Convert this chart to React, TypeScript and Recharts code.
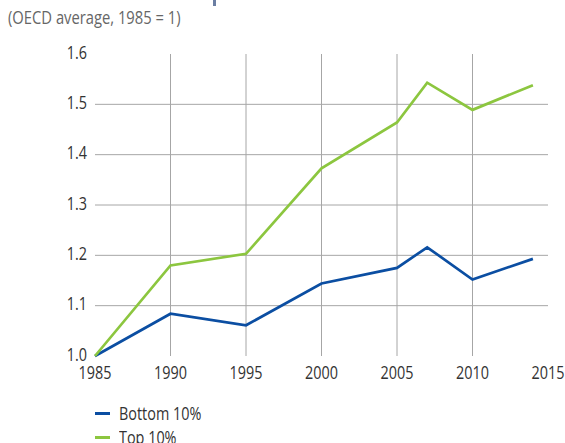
import React from "react";
import { LineChart, Line, XAxis, YAxis, ReferenceLine } from "recharts";

const years = [1985, 1990, 1995, 2000, 2005, 2007, 2010, 2014];
const bottom10 = [1.0, 1.084, 1.061, 1.144, 1.175, 1.216, 1.152, 1.193];
const top10 = [1.0, 1.18, 1.203, 1.373, 1.464, 1.543, 1.489, 1.538];
const xTicks = [1985, 1990, 1995, 2000, 2005, 2010, 2015];
const yTicks = [1.0, 1.1, 1.2, 1.3, 1.4, 1.5, 1.6];
const xGrid = [1990, 1995, 2000, 2005, 2010];
const yGrid = [1.1, 1.2, 1.3, 1.4, 1.5];
const seriesNames = ["Bottom 10%", "Top 10%"];

const BLUE = "#0b4ea2";
const GREEN = "#8cc63f";
const FONT = "'Open Sans', sans-serif";
const SX = 0.8;

const data = years.map((y, i) => ({ year: y, bottom: bottom10[i], top: top10[i] }));

const XTick = (props: any) => {
  const { x, y, payload } = props;
  return (
    <g transform={`translate(${x},${y})`}>
      <text transform={`scale(${SX},1)`} textAnchor="middle" dy="0.71em" fontSize={18} fill="#333" fontFamily={FONT}>
        {payload.value}
      </text>
    </g>
  );
};

const YTick = (props: any) => {
  const { x, y, payload } = props;
  return (
    <g transform={`translate(${x},${y})`}>
      <text transform={`scale(${SX},1)`} textAnchor="end" dy="0.25em" fontSize={18} fill="#333" fontFamily={FONT}>
        {Number(payload.value).toFixed(1)}
      </text>
    </g>
  );
};

export default function App() {
  return (
    <div style={{ position: "absolute", left: 0, top: 0, width: 565, height: 443, background: "#fff", fontFamily: FONT, overflow: "hidden" }}>
      <div style={{ position: "absolute", left: 213, top: 0, width: 3, height: 6, background: "#6b7ea3" }} />
      <div style={{ position: "absolute", left: 8, top: 5, fontSize: 18, lineHeight: "24px", color: "#666", whiteSpace: "nowrap", transform: `scaleX(0.82)`, transformOrigin: "left center" }}>
        (OECD average, 1985 = 1)
      </div>
      <LineChart width={565} height={443} data={data} margin={{ top: 54, right: 17, left: 0, bottom: 56 }}>
        {xGrid.map((v) => (
          <ReferenceLine key={"x" + v} x={v} stroke="#a6a6a6" strokeWidth={1} />
        ))}
        {yGrid.map((v) => (
          <ReferenceLine key={"y" + v} y={v} stroke="#a6a6a6" strokeWidth={1} />
        ))}
        <XAxis
          dataKey="year"
          type="number"
          domain={[1985, 2015]}
          ticks={xTicks}
          axisLine={false}
          tickLine={false}
          tickMargin={4}
          height={31}
          interval={0}
          tick={<XTick />}
        />
        <YAxis
          type="number"
          domain={[1.0, 1.6]}
          ticks={yTicks}
          axisLine={false}
          tickLine={false}
          width={95}
          interval={0}
          tick={<YTick />}
        />
        <Line dataKey="bottom" stroke={BLUE} strokeWidth={2.7} dot={false} isAnimationActive={false} />
        <Line dataKey="top" stroke={GREEN} strokeWidth={2.7} dot={false} isAnimationActive={false} />
      </LineChart>
      {seriesNames.map((n, i) => (
        <div key={n} style={{ position: "absolute", left: 95, top: 403 + i * 24, height: 20, display: "flex", alignItems: "center", fontSize: 18, lineHeight: "20px", color: "#333", whiteSpace: "nowrap" }}>
          <span style={{ display: "inline-block", width: 15, height: 3, background: i === 0 ? BLUE : GREEN, marginRight: 9 }} />
          <span style={{ display: "inline-block", transform: `scaleX(${SX})`, transformOrigin: "left center" }}>{n}</span>
        </div>
      ))}
    </div>
  );
}
